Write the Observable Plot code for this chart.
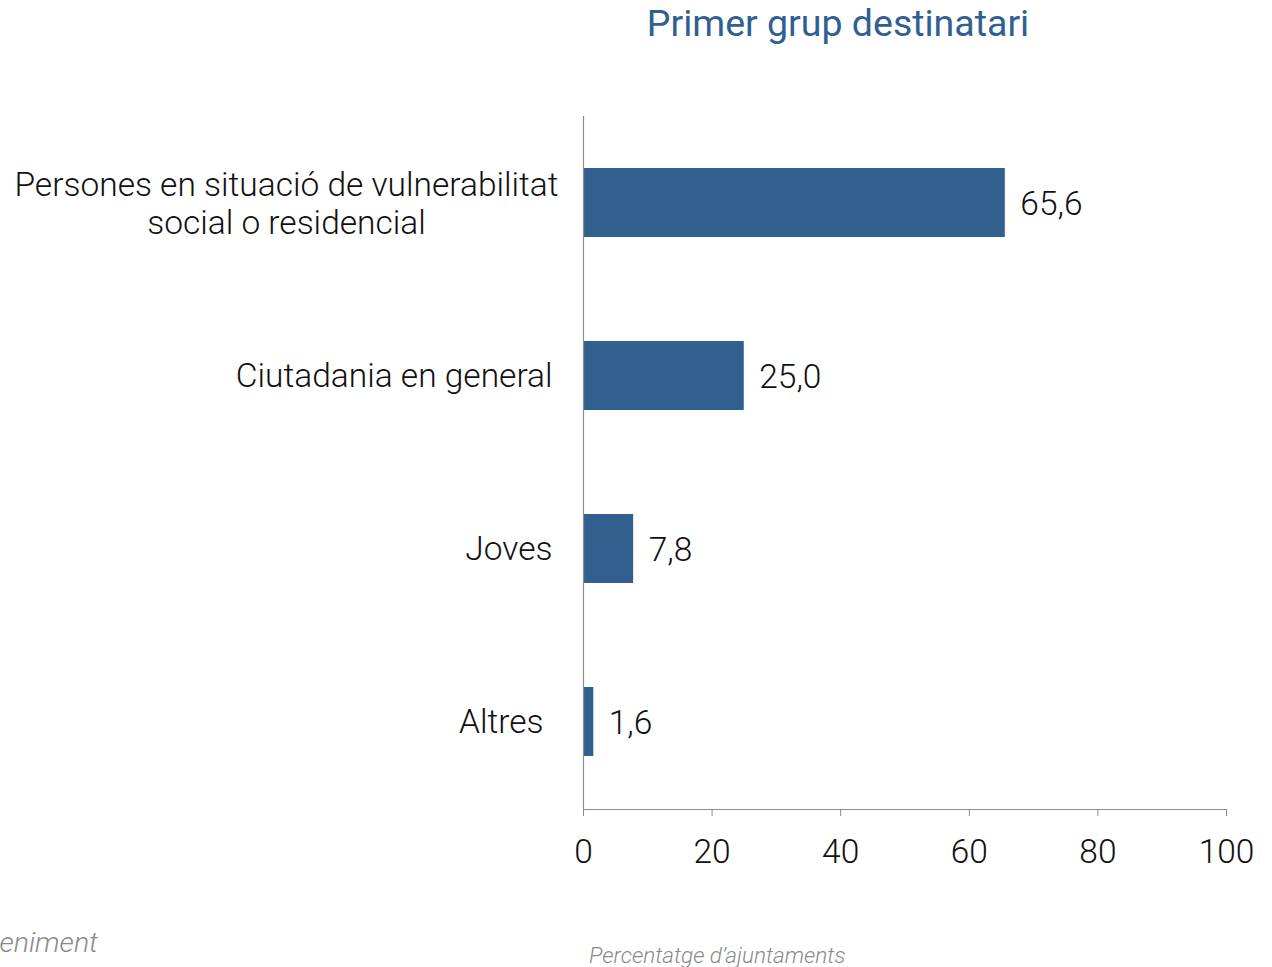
<!DOCTYPE html>
<html>
<head>
<meta charset="utf-8">
<script src="https://cdn.jsdelivr.net/npm/d3@7"></script>
<script src="https://cdn.jsdelivr.net/npm/@observablehq/plot@0.6"></script>
<style>
  html, body { margin: 0; padding: 0; background: #fff; overflow: hidden; }
  #wrap { position: relative; width: 1272px; height: 967px; font-family: Roboto, "Liberation Sans", sans-serif; }
  #title { position: absolute; left: 0; width: 1676px; top: 0px; text-align: center; font-size: 37.5px; color: #2f5f93; line-height: 46px; }
  #xlabel { position: absolute; left: 589px; top: 942px; font-size: 22.5px; font-style: italic; color: #8a8a8a; font-weight: 300; }
  #source { position: absolute; right: 1174px; top: 926px; font-size: 28.5px; font-style: italic; color: #8a8a8a; font-weight: 300; white-space: nowrap; }
  svg text { font-weight: 300; }
</style>
</head>
<body>
<div id="wrap">
  <div id="title">Primer grup destinatari</div>
  <div id="chart"></div>
  <div id="xlabel">Percentatge d’ajuntaments</div>
  <div id="source">eniment</div>
</div>
<script>
const categories = [
  "Persones en situació de vulnerabilitat\nsocial o residencial",
  "Ciutadania en general",
  "Joves",
  "Altres"
];
const values = [65.6, 25.0, 7.8, 1.6];
const xTicks = [0, 20, 40, 60, 80, 100];

const data = categories.map((c, i) => ({category: c, value: values[i]}));
const fmt = v => v.toFixed(1).replace(".", ",");
const barColor = "#31608f";
const axisColor = "#8c8c8c";
const fs = 33.5;

const chart = Plot.plot({
  width: 1272,
  height: 967,
  marginLeft: 583,
  marginRight: 46,
  marginTop: 116,
  marginBottom: 158,
  style: {fontFamily: "Roboto, 'Liberation Sans', sans-serif", color: "#111", background: "transparent"},
  x: {domain: [0, 100], ticks: xTicks},
  y: {domain: categories, paddingInner: 0.6, paddingOuter: 0.3, align: 0.5},
  marks: [
    Plot.barX(data, {x: "value", y: "category", fill: barColor}),
    Plot.text(data, {x: "value", y: "category", text: d => fmt(d.value), textAnchor: "start", dx: 15, dy: 1, fontSize: fs, fill: "#111"}),
    Plot.frame({anchor: "bottom", stroke: axisColor, strokeWidth: 1.2}),
    Plot.ruleX([0], {stroke: axisColor, strokeWidth: 1.2}),
    Plot.axisX({ticks: xTicks, tickSize: 7, tickPadding: 23, fontSize: fs, stroke: axisColor, fill: "#111", label: null, tickFormat: d => String(d)}),
    Plot.axisY(categories.slice(1, 3), {tickSize: 0, tickPadding: 31, fontSize: fs, fill: "#111", label: null, textAnchor: "end"}),
    Plot.axisY(categories.slice(3), {tickSize: 0, tickPadding: 40, fontSize: fs, fill: "#111", label: null, textAnchor: "end"}),
    Plot.axisY(categories.slice(0, 1), {tickSize: 0, tickPadding: 297, fontSize: fs, lineHeight: 1.12, fill: "#111", label: null, textAnchor: "middle"})
  ]
});
document.getElementById("chart").appendChild(chart);
</script>
</body>
</html>
